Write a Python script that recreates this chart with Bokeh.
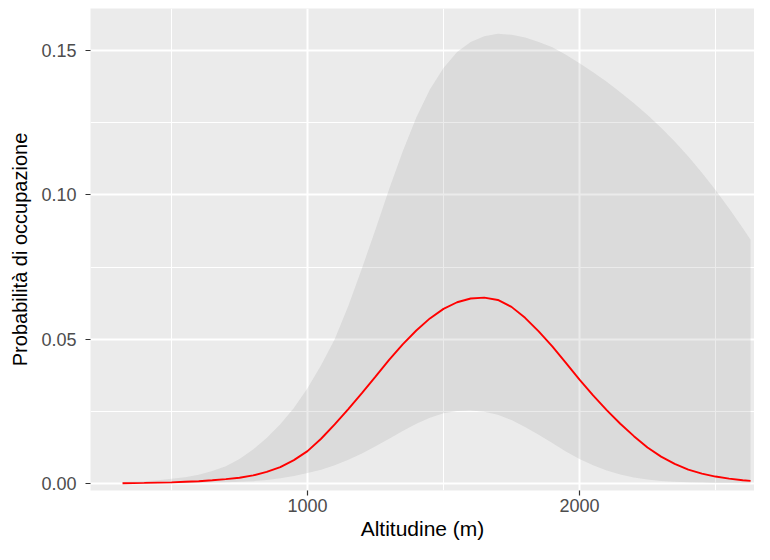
from bokeh.plotting import figure
from bokeh.models import Range1d, FixedTicker, ColumnDataSource
from bokeh.embed import file_html
from bokeh.resources import INLINE

# Altitude (m) and fitted occupancy probability with its confidence band
altitude = [320, 400, 450, 500, 550, 600, 650, 700, 750, 800, 850, 900, 950,
            1000, 1050, 1100, 1150, 1200, 1250, 1300, 1350, 1400, 1450, 1500,
            1550, 1600, 1650, 1700, 1750, 1800, 1850, 1900, 1950, 2000, 2050,
            2100, 2150, 2200, 2250, 2300, 2350, 2400, 2450, 2500, 2550, 2600,
            2629]
prob_mean = [0.0001, 0.0002, 0.0003, 0.0004, 0.0006, 0.0008, 0.0011, 0.0015,
             0.0020, 0.0028, 0.0040, 0.0057, 0.0081, 0.0112, 0.0155, 0.0205,
             0.0258, 0.0313, 0.0370, 0.0428, 0.0482, 0.0530, 0.0572, 0.0605,
             0.0628, 0.0641, 0.0644, 0.0636, 0.0612, 0.0574, 0.0527, 0.0475,
             0.0418, 0.0360, 0.0305, 0.0254, 0.0207, 0.0164, 0.0125, 0.0093,
             0.0068, 0.0048, 0.0034, 0.0024, 0.0017, 0.0011, 0.0009]
prob_lower = [0.0000, 0.0000, 0.0001, 0.0001, 0.0001, 0.0002, 0.0003, 0.0004,
              0.0006, 0.0008, 0.0012, 0.0018, 0.0026, 0.0036, 0.0048, 0.0063,
              0.0082, 0.0104, 0.0129, 0.0155, 0.0182, 0.0207, 0.0228, 0.0243,
              0.0251, 0.0253, 0.0249, 0.0238, 0.0220, 0.0196, 0.0169, 0.0140,
              0.0111, 0.0085, 0.0063, 0.0045, 0.0031, 0.0021, 0.0014, 0.0009,
              0.0006, 0.0004, 0.0003, 0.0002, 0.0002, 0.0001, 0.0001]
prob_upper = [0.0005, 0.0008, 0.0011, 0.0016, 0.0022, 0.0030, 0.0043, 0.0060,
              0.0085, 0.0118, 0.0158, 0.0205, 0.0262, 0.0330, 0.0410, 0.0500,
              0.0615, 0.0745, 0.0880, 0.1020, 0.1150, 0.1268, 0.1365, 0.1440,
              0.1495, 0.1530, 0.1550, 0.1558, 0.1555, 0.1545, 0.1530, 0.1512,
              0.1486, 0.1456, 0.1425, 0.1392, 0.1356, 0.1318, 0.1277, 0.1233,
              0.1185, 0.1133, 0.1077, 0.1017, 0.0953, 0.0885, 0.0845]

x_ticks = [1000, 2000]
x_minor = [500, 1500, 2500]
y_ticks = [0.0, 0.05, 0.10, 0.15]
y_minor = [0.025, 0.075, 0.125]
y_labels = ["0.00", "0.05", "0.10", "0.15"]

src = ColumnDataSource(dict(x=altitude, m=prob_mean, lo=prob_lower, hi=prob_upper))

p = figure(width=754, height=544, output_backend="svg", toolbar_location=None,
           x_range=Range1d(202.2, 2643.4), y_range=Range1d(-0.00243, 0.16459),
           min_border_left=90, min_border_top=8, min_border_right=0,
           min_border_bottom=54)

p.background_fill_color = "#EBEBEB"
p.border_fill_color = "white"
p.outline_line_color = None

p.varea(x="x", y1="lo", y2="hi", source=src, fill_color="#999999", fill_alpha=0.2)
p.line(x="x", y="m", source=src, line_color="red", line_width=1.9)

p.xaxis.ticker = FixedTicker(ticks=x_ticks, minor_ticks=x_minor)
p.yaxis.ticker = FixedTicker(ticks=y_ticks, minor_ticks=y_minor)
p.yaxis.major_label_overrides = {t: l for t, l in zip(y_ticks, y_labels)}
p.xaxis.major_label_overrides = {t: str(t) for t in x_ticks}

for ax in (p.xaxis, p.yaxis):
    ax.axis_line_color = None
    ax.major_tick_line_color = "#333333"
    ax.major_tick_line_width = 1.2
    ax.major_tick_out = 5
    ax.major_tick_in = 0
    ax.minor_tick_line_color = None
    ax.major_label_text_color = "#4D4D4D"
    ax.major_label_text_font = "Liberation Sans"
    ax.major_label_text_font_size = "18px"
    ax.axis_label_text_color = "black"
    ax.axis_label_text_font = "Liberation Sans"
    ax.axis_label_text_font_style = "normal"

p.xaxis.axis_label = "Altitudine (m)"
p.yaxis.axis_label = "Probabilità di occupazione"
p.xaxis.axis_label_text_font_size = "21px"
p.yaxis.axis_label_text_font_size = "20px"
p.xaxis.major_label_standoff = 3
p.xaxis.axis_label_standoff = 2
p.yaxis.major_label_standoff = 9
p.yaxis.axis_label_standoff = 7

for g in (p.xgrid, p.ygrid):
    g.grid_line_color = "white"
    g.grid_line_width = 2
    g.minor_grid_line_color = "white"
    g.minor_grid_line_width = 1

open("out.html", "w").write(file_html(p, INLINE))
